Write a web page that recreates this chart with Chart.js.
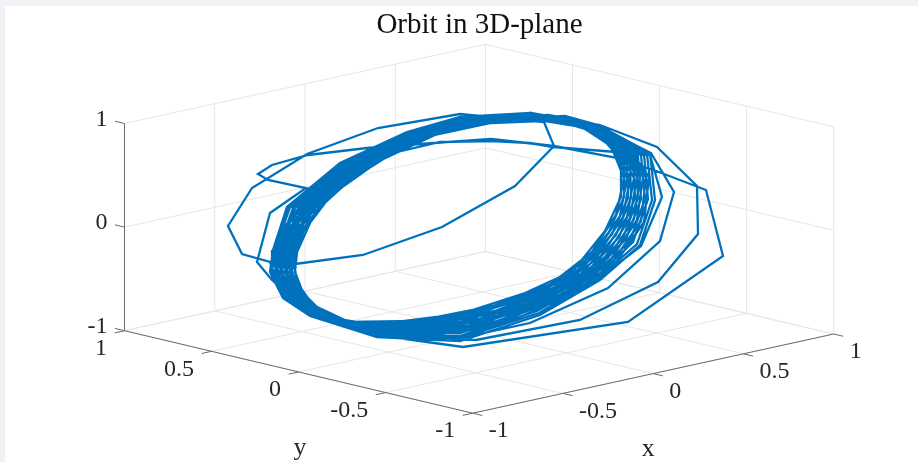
<!DOCTYPE html>
<html><head><meta charset="utf-8">
<style>
html,body{margin:0;padding:0;width:918px;height:462px;overflow:hidden;background:#f0f2f5}
#box{position:absolute;left:5px;top:6px;width:913px;height:456px;background:#fff}
</style>
<script src="https://cdn.jsdelivr.net/npm/chart.js@4"></script>
</head><body><div id="box"><canvas id="c" width="913" height="456"></canvas></div>
<script>
const chartTitle = "Orbit in 3D-plane";
const xTicks = [-1,-0.5,0,0.5,1];
const yTicks = [-1,-0.5,0,0.5,1];
const zTicks = [-1,0,1];
const xTickLabels = ["-1","-0.5","0","0.5","1"];
const yTickLabels = ["-1","-0.5","0","0.5","1"];
const zTickLabels = ["-1","0","1"];
const lineColor = "#0072BD";

// Orbit, in view-plane coordinates (the 3D curve as seen from the camera).
const orbitU = [
-1.64,-.96,-.17,.56,.95,.85,.01,-.81,-1.52,-2.07,-2.31,-2.17,-1.89,-1.76,-1.49,-.82,.04,1.69,2.64,2.47,1.92,1.59,.95,.32,-.39,-.92,-1.51,-1.87,-2.01,-1.91,-1.53,-1.89,-2.02,-1.87,-1.59,-.82,.17,1.21,1.99,2.39,2.38,1.98,1.41,
.72,.01,-.52,-1.19,-1.72,-1.86,-1.87,-1.75,-1.49,-.82,.01,.71,1.49,2.01,2.15,1.92,1.39,
.72,.01,-.52,-1.19,-1.72,-1.85,-1.87,-1.75,-1.49,-.82,.01,.66,1.26,1.82,2.03,1.91,1.57,.94,.71,.33,-.19,-.66,-1.09,
-1.44,-1.62,-1.64,-1.56,-1.32,-.86,.01,.66,1.14,1.46,1.62,1.62,1.39,1.06,
.72,.01,-.52,-1.19,-1.72,-1.86,-1.89,-1.76,-1.49,-.82,.01,.81,1.41,1.81,1.96,1.91,1.39,1.06,
.33,-.25,-.82,-1.34,-1.63,-1.73,-1.69,-1.51,-1.12,-.42,.37,.98,1.42,1.68,1.75,1.56,1.23,.86,
.71,.01,-.52,-1.18,-1.69,-1.84,-1.87,-1.74,-1.47,-.82,.01,.80,1.38,1.78,1.93,1.88,1.39,1.06,
.33,-.25,-.80,-1.30,-1.58,-1.68,-1.65,-1.48,-1.10,-.42,.35,.94,1.36,1.61,1.68,1.53,1.23,.85,
.69,.01,-.51,-1.16,-1.64,-1.79,-1.82,-1.70,-1.44,-.83,.01,.77,1.33,1.71,1.86,1.82,1.39,1.06,
.63,.01,-.49,-1.10,-1.47,-1.64,-1.67,-1.58,-1.34,-.86,.01,.68,1.17,1.50,1.65,1.65,1.39,1.06,
.36,-.25,-.84,-1.42,-1.74,-1.83,-1.78,-1.59,-1.14,-.41,.40,1.07,1.55,1.82,1.87,1.62,1.23,.88,
.65,.01,-.50,-1.12,-1.52,-1.69,-1.72,-1.62,-1.37,-.85,.01,.71,1.22,1.57,1.72,1.71,1.39,1.06,
.35,-.25,-.83,-1.38,-1.69,-1.78,-1.74,-1.55,-1.13,-.41,.38,1.03,1.49,1.75,1.81,1.59,1.23,.87,
.67,.01,-.51,-1.14,-1.58,-1.74,-1.77,-1.66,-1.41,-.84,.01,.74,1.28,1.64,1.79,1.77,1.39,1.06,
.64,.01,-.50,-1.11,-1.50,-1.67,-1.69,-1.60,-1.35,-.85,.01,.69,1.19,1.53,1.69,1.68,1.39,1.06,
.36,-.25,-.85,-1.44,-1.76,-1.85,-1.80,-1.61,-1.15,-.41,.40,1.09,1.58,1.85,1.90,1.64,1.23,.89,
.66,.01,-.50,-1.13,-1.55,-1.72,-1.74,-1.64,-1.39,-.84,.01,.72,1.25,1.60,1.76,1.74,1.39,1.06,
.32,-.24,-.80,-1.28,-1.56,-1.65,-1.62,-1.46,-1.10,-.42,.34,.92,1.33,1.57,1.65,1.52,1.23,.85,
.68,.01,-.51,-1.15,-1.61,-1.76,-1.79,-1.68,-1.42,-.84,.01,.75,1.30,1.67,1.82,1.79,1.39,1.06,
.33,-.24,-.81,-1.32,-1.61,-1.70,-1.67,-1.50,-1.11,-.42,.36,.96,1.39,1.64,1.71,1.55,1.23,.86,
.70,.01,-.51,-1.17,-1.66,-1.81,-1.84,-1.72,-1.46,-.83,.01,.78,1.36,1.74,1.89,1.85,1.39,1.06,
.34,-.25,-.82,-1.36,-1.66,-1.75,-1.71,-1.53,-1.12,-.42,.37,1.01,1.46,1.71,1.78,1.58,1.23,.87,
.35,-.25,-.84,-1.40,-1.71,-1.80,-1.76,-1.57,-1.14,-.41,.39,1.05,1.52,1.78,1.84,1.60,1.23,.88
];
const orbitV = [
-.33,-.24,.04,.45,.85,1.09,1.17,1.03,.77,.43,.05,-.23,-.31,-.67,-.85,-1.04,-1.16,-.91,-.25,.41,.62,.73,.85,.92,.87,.83,.76,.66,.57,.51,.43,.18,-.31,-.49,-.74,-1.01,-1.09,-.89,-.51,-.03,.45,.84,1.06,
1.18,1.13,.99,.68,.24,-.19,-.41,-.67,-.85,-1.05,-1.07,-.92,-.57,-.10,.39,.78,1.05,
1.17,1.12,.97,.66,.21,-.19,-.41,-.67,-.85,-1.04,-1.05,-.81,-.58,-.15,.34,.76,.79,.84,.88,.90,.89,.78,.51,
.19,-.21,-.41,-.62,-.86,-.94,-.83,-.62,-.40,0,.34,.71,.98,1.08,
1.18,1.14,.99,.68,.24,-.19,-.41,-.67,-.85,-1.06,-1.10,-.84,-.49,-.14,.31,.78,1.06,1.15,
1.11,1.00,.75,.39,0,-.31,-.53,-.75,-.92,-.96,-.82,-.57,-.25,.14,.53,.88,1.06,1.12,
1.17,1.13,.98,.66,.24,-.19,-.41,-.67,-.85,-1.05,-1.07,-.82,-.48,-.13,.31,.77,1.05,1.14,
1.09,.97,.72,.37,-.01,-.31,-.52,-.74,-.91,-.92,-.77,-.54,-.22,.15,.53,.86,1.05,1.11,
1.16,1.11,.95,.63,.23,-.20,-.41,-.66,-.85,-1.02,-1.02,-.77,-.46,-.10,.32,.76,1.04,1.13,
1.12,1.04,.88,.53,.20,-.21,-.41,-.63,-.86,-.95,-.86,-.64,-.41,-.01,.34,.72,.99,1.09,
1.14,1.04,.81,.44,.02,-.30,-.54,-.76,-.94,-1.04,-.92,-.63,-.29,.10,.54,.91,1.09,1.15,
1.13,1.06,.91,.56,.21,-.21,-.41,-.64,-.86,-.98,-.91,-.69,-.43,-.04,.33,.73,1.00,1.10,
1.12,1.02,.78,.42,.01,-.30,-.53,-.75,-.93,-1.00,-.87,-.60,-.27,.12,.54,.89,1.08,1.14,
1.15,1.09,.93,.60,.22,-.20,-.41,-.65,-.86,-1.00,-.97,-.73,-.45,-.07,.33,.75,1.02,1.12,
1.12,1.05,.89,.54,.20,-.21,-.41,-.63,-.86,-.96,-.88,-.66,-.42,-.03,.33,.72,1.00,1.09,
1.15,1.05,.82,.45,.02,-.30,-.54,-.76,-.95,-1.06,-.95,-.65,-.30,.09,.54,.91,1.10,1.16,
1.14,1.07,.92,.58,.21,-.20,-.41,-.64,-.86,-.99,-.94,-.71,-.44,-.06,.33,.74,1.01,1.11,
1.08,.96,.70,.36,-.01,-.31,-.52,-.74,-.91,-.90,-.75,-.53,-.21,.16,.53,.85,1.04,1.10,
1.15,1.10,.94,.61,.22,-.20,-.41,-.65,-.85,-1.01,-.99,-.75,-.45,-.08,.32,.75,1.03,1.12,
1.10,.98,.73,.38,0,-.31,-.52,-.75,-.92,-.94,-.80,-.56,-.23,.14,.53,.87,1.05,1.12,
1.17,1.12,.97,.65,.23,-.19,-.41,-.66,-.85,-1.04,-1.05,-.80,-.47,-.11,.32,.77,1.04,1.14,
1.12,1.01,.76,.41,.01,-.31,-.53,-.75,-.93,-.98,-.85,-.59,-.26,.13,.54,.88,1.07,1.13,
1.13,1.03,.79,.43,.01,-.30,-.53,-.75,-.94,-1.02,-.90,-.62,-.28,.11,.54,.90,1.08,1.15
];

// camera used for the axes box
function project(x,y,z){
  return {x:0.201+1.805*x-1.741*y, y:0.0225+0.396*x+0.4125*y+1.036*z};
}
const GAP={x:NaN,y:NaN};
function poly(list,...pts){pts.forEach(p=>list.push(project(p[0],p[1],p[2])));list.push(GAP);}

const gridPts=[],axisPts=[],tickPts=[];
xTicks.forEach(t=>poly(gridPts,[t,-1,-1],[t,1,-1],[t,1,1]));
yTicks.forEach(t=>poly(gridPts,[-1,t,-1],[1,t,-1],[1,t,1]));
zTicks.forEach(t=>poly(gridPts,[-1,1,t],[1,1,t],[1,-1,t]));
poly(axisPts,[-1,1,-1],[-1,1,1]);
poly(axisPts,[-1,1,-1],[-1,-1,-1],[1,-1,-1]);
const tl=0.055;
xTicks.forEach(t=>poly(tickPts,[t,-1,-1],[t,-1-tl,-1]));
yTicks.forEach(t=>poly(tickPts,[-1,t,-1],[-1-tl,t,-1]));
zTicks.forEach(t=>poly(tickPts,[-1,1,t],[-1,1+tl,t]));

const orbitPts=orbitU.map((u,i)=>({x:u,y:orbitV[i]}));

const textItems=[];
xTicks.forEach((t,i)=>textItems.push({s:xTickLabels[i],p:project(t,-1,-1),dx:16,dy:18,a:"left"}));
yTicks.forEach((t,i)=>textItems.push({s:yTickLabels[i],p:project(-1,t,-1),dx:-17.5,dy:18,a:"right"}));
zTicks.forEach((t,i)=>textItems.push({s:zTickLabels[i],p:project(-1,1,t),dx:-17,dy:-4,a:"right"}));
textItems.push({s:"x",p:project(0,-1,-1),dx:-5,dy:76,a:"center",f:26});
textItems.push({s:"y",p:project(-1,0,-1),dx:1.5,dy:76,a:"center",f:26});

const axisText={id:"axisText",afterDraw(ch){
  const g=ch.ctx,sx=ch.scales.x,sy=ch.scales.y;
  g.save();g.fillStyle="#262626";g.textBaseline="middle";
  textItems.forEach(t=>{
    g.font=(t.f||24)+'px "Liberation Serif"';g.textAlign=t.a;
    g.fillText(t.s,sx.getPixelForValue(t.p.x)+t.dx,sy.getPixelForValue(t.p.y)+t.dy);
  });
  g.restore();
}};
const base={showLine:true,pointRadius:0,pointHoverRadius:0,tension:0,spanGaps:false,fill:false,clip:false};
new Chart(document.getElementById("c"),{
  type:"scatter",
  data:{datasets:[
    {...base,label:"orbit",data:orbitPts,borderColor:lineColor,borderWidth:2.3,borderJoinStyle:"miter",order:0},
    {...base,label:"ticks",data:tickPts,borderColor:"#6a6a6a",borderWidth:1,order:1},
    {...base,label:"axes",data:axisPts,borderColor:"#6a6a6a",borderWidth:1,order:2},
    {...base,label:"grid",data:gridPts,borderColor:"#e6e6e6",borderWidth:1,order:3}
  ]},
  options:{
    responsive:false,animation:false,
    layout:{padding:{left:36,right:0,top:0,bottom:0}},
    plugins:{legend:{display:false},tooltip:{enabled:false},
      title:{display:true,text:chartTitle,fullSize:false,color:"#111",
        font:{family:'"Liberation Serif"',size:29,weight:"normal",lineHeight:1},
        padding:{top:5,bottom:0}}},
    scales:{
      x:{type:"linear",display:false,min:-4.18,max:4.59},
      y:{type:"linear",display:false,min:-2.31,max:1.91}
    }
  },
  plugins:[axisText]
});
</script></body></html>
